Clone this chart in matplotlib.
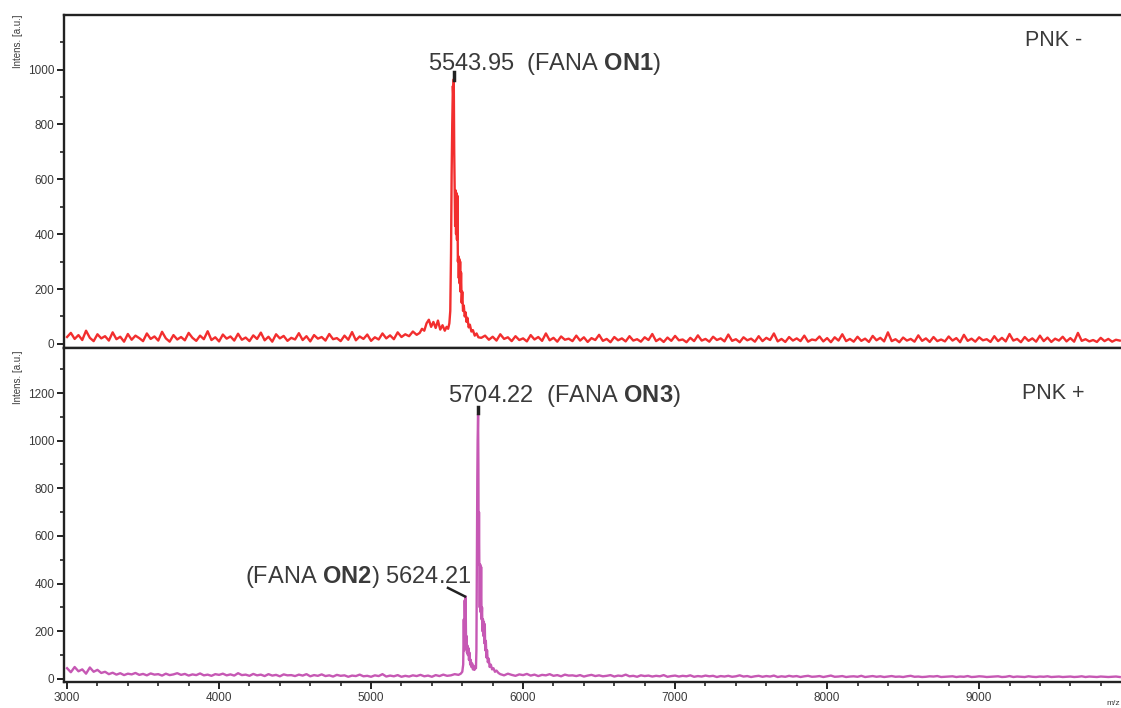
import numpy as np
import matplotlib
matplotlib.use("Agg")
import matplotlib.pyplot as plt
from matplotlib.ticker import MultipleLocator

plt.rcParams['font.family'] = ['Liberation Sans', 'DejaVu Sans']
plt.rcParams['mathtext.fontset'] = 'custom'
plt.rcParams['mathtext.rm'] = 'Liberation Sans'
plt.rcParams['mathtext.bf'] = 'Liberation Sans:bold'

# --- PNK - spectrum (red) ---
step = 25
top_base1_start = 3000
top_base1 = [25, 40, 18, 32, 14, 48, 22, 10, 35, 20,
             28, 12, 42, 17, 26, 8, 36, 15, 30, 21,
             10, 38, 18, 27, 12, 44, 20, 8, 32, 16,
             25, 13, 40, 22, 11, 30, 17, 46, 14, 24,
             9, 34, 19, 27, 12, 37, 15, 23, 10, 31,
             18, 41, 13, 26, 8, 35, 20, 29, 11, 22,
             16, 39, 14, 28, 9, 32, 19, 25, 12, 36,
             17, 21, 10, 30, 15, 43, 13, 27, 18, 34,
             11, 24, 16, 38, 20, 31, 17, 42, 25, 35,
             28, 45, 33]
top_peak_mass = [5320, 5335, 5350, 5365, 5380, 5395, 5410, 5425, 5440, 5455,
                 5470, 5485, 5497, 5507, 5515, 5521, 5526, 5530, 5534, 5538,
                 5541, 5544, 5547, 5550, 5553, 5556, 5559, 5562, 5565, 5568,
                 5571, 5574, 5577, 5580, 5583, 5586, 5589, 5592, 5596, 5600,
                 5605, 5610, 5616, 5622, 5628, 5634, 5642, 5650, 5660, 5670,
                 5682, 5694, 5706]
top_peak_int = [40, 55, 48, 75, 88, 62, 80, 58, 85, 52,
                68, 48, 62, 55, 75, 120, 330, 620, 800, 940,
                900, 965, 700, 560, 430, 560, 400, 550, 380, 540,
                300, 320, 240, 310, 220, 300, 190, 260, 150, 190,
                120, 140, 100, 115, 80, 95, 60, 70, 45, 50,
                30, 38, 24]
top_base2_start = 5725
top_base2 = [22, 30, 15, 26, 12, 35, 18, 24, 10, 28,
             14, 20, 9, 32, 16, 25, 11, 38, 13, 22,
             8, 27, 15, 19, 10, 30, 12, 24, 7, 21,
             14, 33, 11, 18, 6, 25, 13, 20, 9, 28,
             12, 17, 8, 24, 14, 36, 10, 19, 7, 23,
             11, 29, 13, 16, 6, 22, 10, 31, 12, 18,
             8, 26, 14, 20, 9, 34, 11, 17, 6, 24,
             13, 19, 8, 28, 10, 22, 14, 38, 9, 18,
             7, 25, 12, 20, 10, 30, 8, 16, 13, 27,
             9, 21, 6, 24, 12, 35, 10, 18, 8, 26,
             11, 19, 7, 29, 13, 22, 9, 42, 10, 17,
             6, 23, 12, 18, 8, 31, 11, 20, 7, 25,
             10, 16, 9, 27, 12, 21, 6, 33, 11, 19,
             8, 24, 13, 17, 7, 28, 10, 22, 9, 36,
             12, 18, 6, 25, 11, 20, 8, 30, 10, 23,
             7, 19, 12, 26, 9, 21, 8, 40, 11, 17,
             9, 14, 7, 22, 10, 18, 8, 15, 12]

# --- PNK + spectrum (magenta) ---
bot_base1_start = 3000
bot_base1 = [45, 28, 50, 32, 40, 22, 48, 30, 38, 25,
             30, 20, 26, 18, 24, 16, 22, 19, 25, 17,
             21, 15, 23, 18, 20, 14, 22, 16, 19, 24,
             17, 21, 14, 19, 16, 23, 15, 18, 13, 20,
             17, 22, 15, 19, 14, 24, 16, 18, 13, 21,
             15, 18, 12, 20, 14, 17, 11, 19, 15, 16,
             12, 18, 14, 20, 11, 16, 13, 19, 12, 15,
             10, 17, 13, 15, 9, 14, 12, 18, 11, 13,
             9, 15, 12, 20, 10, 14, 11, 16, 9, 13,
             10, 15, 12, 17, 11, 14, 9, 16, 12, 18,
             13, 15, 20, 17]
bot_peak_mass = [5590, 5600, 5606, 5610, 5613, 5616, 5619, 5622, 5625, 5628,
                 5631, 5634, 5637, 5640, 5644, 5648, 5652, 5656, 5660, 5665,
                 5670, 5675, 5680, 5685, 5690, 5693, 5696, 5699, 5701, 5704,
                 5706, 5708, 5710, 5712, 5715, 5718, 5721, 5724, 5727, 5730,
                 5733, 5736, 5739, 5742, 5745, 5748, 5751, 5755, 5759, 5763,
                 5768, 5774, 5780, 5788, 5796, 5805, 5815, 5825, 5838]
bot_peak_int = [22, 30, 60, 250, 120, 330, 200, 345, 140, 180,
                110, 140, 100, 130, 80, 110, 60, 80, 50, 65,
                40, 55, 38, 50, 45, 120, 500, 850, 1000, 1110,
                900, 480, 700, 490, 300, 480, 280, 470, 250, 300,
                200, 250, 180, 240, 150, 230, 120, 160, 90, 120,
                70, 85, 50, 60, 40, 45, 30, 35, 25]
bot_base2_start = 5850
bot_base2 = [20, 15, 22, 17, 13, 19, 16, 21, 14, 18,
             12, 17, 15, 20, 13, 16, 11, 18, 14, 15,
             12, 16, 10, 14, 17, 12, 15, 11, 13, 16,
             10, 14, 12, 18, 11, 13, 9, 15, 12, 14,
             10, 13, 11, 16, 9, 12, 14, 10, 13, 11,
             15, 9, 12, 10, 14, 11, 13, 8, 12, 10,
             13, 9, 11, 15, 10, 12, 8, 11, 13, 9,
             12, 10, 14, 8, 11, 9, 13, 10, 12, 8,
             11, 13, 9, 10, 12, 8, 11, 14, 9, 10,
             12, 8, 10, 11, 9, 13, 8, 10, 12, 9,
             11, 8, 10, 12, 9, 10, 8, 11, 13, 9,
             10, 8, 9, 11, 10, 12, 8, 9, 10, 11,
             8, 10, 9, 12, 8, 9, 11, 10, 8, 9,
             10, 11, 8, 9, 12, 8, 10, 9, 8, 11,
             9, 8, 10, 9, 11, 8, 9, 10, 8, 9,
             10, 8, 9, 11, 8, 10, 9, 8, 10, 9,
             8, 9, 10, 8]


def build(start1, base1, pmass, pint, start2, base2):
    m1 = start1 + step * np.arange(len(base1))
    m2 = start2 + step * np.arange(len(base2))
    mass = np.concatenate([m1, pmass, m2])
    inten = np.concatenate([base1, pint, base2])
    return mass, inten


top_mass, top_int = build(top_base1_start, top_base1, top_peak_mass, top_peak_int,
                          top_base2_start, top_base2)
bot_mass, bot_int = build(bot_base1_start, bot_base1, bot_peak_mass, bot_peak_int,
                          bot_base2_start, bot_base2)

txt = '#3a3a3a'
fig = plt.figure(figsize=(11.21, 7.08), dpi=100)
ax1 = fig.add_axes([0.0571, 0.5085, 0.948, 0.4703])
ax2 = fig.add_axes([0.0571, 0.0367, 0.948, 0.4718])

ax1.plot(top_mass, top_int, color='#f22e2e', lw=1.7)
ax2.plot(bot_mass, bot_int, color='#c658b4', lw=1.7)

ax1.set_ylim(-15, 1199)
ax2.set_ylim(-13, 1389)
for ax in (ax1, ax2):
    ax.set_xlim(2980, 9971)
    for s in ax.spines.values():
        s.set_linewidth(1.7)
        s.set_color('#222222')
    ax.yaxis.set_major_locator(MultipleLocator(200))
    ax.yaxis.set_minor_locator(MultipleLocator(100))
    ax.xaxis.set_major_locator(MultipleLocator(1000))
    ax.xaxis.set_minor_locator(MultipleLocator(200))
    ax.tick_params(which='major', direction='out', length=5, width=1.4,
                   labelsize=8.5, labelcolor=txt, color='#222222', pad=2)
    ax.tick_params(which='minor', direction='out', length=3, width=1.2,
                   color='#222222')

ax1.tick_params(axis='x', which='both', bottom=False, labelbottom=False)

fig.text(0.016, 0.979, 'Intens. [a.u.]', rotation=90, ha='center', va='top',
         fontsize=7, color=txt)
fig.text(0.016, 0.505, 'Intens. [a.u.]', rotation=90, ha='center', va='top',
         fontsize=7, color=txt)
fig.text(0.999, 0.002, 'm/z', ha='right', va='bottom', fontsize=6, color=txt)

# peak annotations
ax1.plot([5544, 5544], [962, 990], color='#222222', lw=2.5)
ax1.text(5375, 1000, '5543.95  (FANA $\\mathbf{ON1}$)', fontsize=17,
         color=txt, va='baseline')
ax1.text(9302, 1106, 'PNK -', fontsize=15.5, color=txt, va='center')

ax2.plot([5704, 5704], [1116, 1141], color='#222222', lw=2.5)
ax2.text(5506, 1162, '5704.22  (FANA $\\mathbf{ON3}$)', fontsize=17,
         color=txt, va='baseline')
ax2.plot([5506, 5618], [382, 346], color='#222222', lw=1.8)
ax2.text(5664, 403, '(FANA $\\mathbf{ON2}$) 5624.21', fontsize=17,
         color=txt, va='baseline', ha='right')
ax2.text(9283, 1196, 'PNK +', fontsize=15.5, color=txt, va='center')

fig.savefig('out.png', dpi=100)
